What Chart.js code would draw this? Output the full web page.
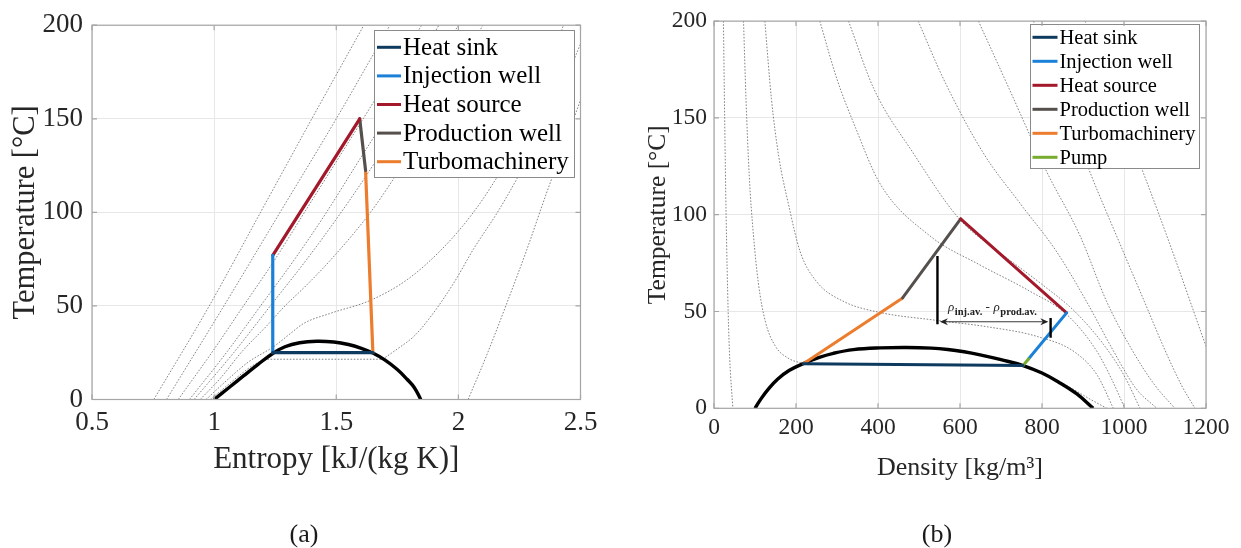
<!DOCTYPE html>
<html>
<head>
<meta charset="utf-8">
<title>CO2 cycle: T-s and T-rho diagrams</title>
<script src="https://cdn.jsdelivr.net/npm/chart.js@4.4.1/dist/chart.umd.min.js"></script>
<style>
  html, body { margin: 0; padding: 0; background: #fff; }
  #wrap { position: relative; width: 1241px; height: 548px; overflow: hidden; }
  .panel { position: absolute; top: 0; }
  #panelA { left: 0; }
  #panelB { left: 620px; }
  .caption {
    position: absolute; top: 519px; line-height: 28px;
    font: 26px "Liberation Serif", "Times New Roman", serif; color: #1a1a1a;
    transform: translateX(-50%);
  }
</style>
</head>
<body>
<div id="wrap">
  <div class="panel" id="panelA"><canvas id="tsChart" width="620" height="548"></canvas></div>
  <div class="panel" id="panelB"><canvas id="trhoChart" width="621" height="548"></canvas></div>
  <div class="caption" style="left:304px">(a)</div>
  <div class="caption" style="left:937px">(b)</div>
</div>

<script>
// ---------- (a) temperature vs entropy: [s kJ/(kg K), T °C] ----------
const sDome = [[1.0,0],[1.06,6.3],[1.12,12.6],[1.18,18.8],[1.24,24.6],[1.29,28.2],[1.35,30.3],[1.42,31.1],
               [1.49,30.7],[1.55,29.4],[1.60,27.5],[1.65,24.8],[1.70,21],[1.75,16],[1.79,10.8],[1.82,6.3],[1.846,0]];

const sHeatSink   = [[1.24,25],[1.65,25]];
const sInjection  = [[1.24,25],[1.24,77]];
const sHeatSource = [[1.24,77],[1.596,150]];
const sProduction = [[1.596,150],[1.62,122.4]];
const sTurbo      = [[1.62,122.4],[1.65,25]];

// isobars
const sIso2    = [[2.04,0],[2.12,25],[2.2,52],[2.28,80],[2.36,110],[2.43,135],[2.5,160]];
const sIso6Liq = [[0.984,0],[1.04,6],[1.10,12.5],[1.15,17.5],[1.205,21.5]];
const sIso6Mix = [[1.205,21.5],[1.69,21.5]];
const sIso6Vap = [[1.69,21.5],[1.75,27],[1.82,34],[1.885,44],[1.98,62],[2.063,80.6],[2.16,100],
                  [2.24,118],[2.33,140],[2.42,165],[2.5,190]];
const sIso10   = [[0.967,0],[1.05,10],[1.14,20],[1.243,28.2],[1.31,35],[1.366,40.6],[1.475,46],[1.64,53],
                  [1.79,64],[1.93,80],[2.05,98],[2.145,116],[2.25,140],[2.35,170],[2.43,200]];
const sIso20   = [[0.943,0],[1.03,12],[1.11,25],[1.22,40],[1.29,50],[1.37,60],[1.48,75],[1.64,100],
                  [1.77,125],[1.89,150],[2.10,200]];
const sIso30   = [[0.918,0],[1.08,25],[1.23,50],[1.38,75],[1.52,100],[1.65,125],[1.77,150],[2.0,200]];
const sIso40   = [[0.899,0],[1.05,25],[1.19,50],[1.33,75],[1.46,100],[1.58,125],[1.70,150],[1.92,200]];
const sIso60   = [[0.853,0],[0.99,25],[1.12,50],[1.25,75],[1.37,100],[1.49,125],[1.61,150],[1.73,175],[1.85,200]];
const sIso80   = [[0.805,0],[1.04,50],[1.27,100],[1.50,150],[1.72,200]];
const sIsoMax  = [[0.753,0],[0.98,50],[1.19,100],[1.40,150],[1.613,200]];

// ---------- (b) temperature vs density: [rho kg/m3, T °C] ----------
const rDome = [[100,0],[115,5],[133,10],[155,15],[183,19.5],[218,23.1],[255,26.2],[291,28.4],[340,30.3],
               [405,31.2],[470,31.4],[530,31.1],[570,30.4],[610,29.2],[649,27.6],[700,25.1],[754,22.1],
               [800,18.2],[840,13.6],[885,7.4],[925,0]];

const rHeatSink   = [[218,23],[754,22.1]];
const rPump       = [[754,22.1],[767,25.5]];
const rInjection  = [[767,25.5],[860,49.3]];
const rHeatSource = [[601.6,97.8],[860,49.3]];
const rProduction = [[460,57],[601.6,97.8]];
const rTurbo      = [[218,23],[460,57]];

// isobars
const rIso2    = [[23,200],[26,150],[29.5,100],[34.5,50],[38.5,25],[46,0]];
const rIso6Vap = [[72,200],[78,160],[86,120],[96,90],[108,65],[125,45],[150,32],[180,26],[218,23]];
const rIso6Liq = [[754,22.1],[790,19],[835,14.5],[875,10],[915,5],[958,0]];
const rIso10   = [[124,200],[140,160],[158,130],[181,106],[210,81],[250,65.5],[315,55.3],[405,49.5],
                  [540,45.5],[670,42],[790,37],[880,29],[935,17],[974,0]];
const rIso20   = [[258,200],[300,170],[345,145],[405,116],[527,89],[649,74],[771,60.4],[860,48.5],
                  [933,29.7],[970,15],[1002,0]];
const rIso30   = [[328,200],[390,165],[486,131.8],[600,97.4],[700,80],[800,64],[880,50],[950,33],[1000,17],[1039,0]];
const rIso40   = [[498,200],[560,170],[657,131.8],[746,106],[836,80.8],[909,55],[974,29.7],[1030,10],[1080,0]];
const rIso60   = [[645,200],[720,165],[811,122.4],[893,89],[958,55],[1020,30],[1075,12],[1124,0]];
const rIso80   = [[779,200],[850,160],[917,122],[990,85],[1050,55],[1100,30],[1140,12],[1173,0]];
const rIsoMax  = [[905,200],[975,160],[1050,120],[1120,80],[1170,50],[1200,32]];

// density difference marker between the two wells
const rBarProd  = [[545,43.4],[545,78.7]];
const rBarInj   = [[821,36.5],[821,46.7]];
const rArrow    = [[551,44.7],[815.5,44.7]];
const rDiffText = [['ρ', 'inj.av.'], [' - ', ''], ['ρ', 'prod.av.']];

const legendA = ['Heat sink', 'Injection well', 'Heat source', 'Production well', 'Turbomachinery'];
const legendB = ['Heat sink', 'Injection well', 'Heat source', 'Production well', 'Turbomachinery', 'Pump'];

// ---------- styling ----------
const FONT = '"Liberation Serif", "Times New Roman", serif';
const INK = '#262626';
const COLORS = {
  'Heat sink': '#0f3a5f',
  'Injection well': '#1b80d8',
  'Heat source': '#a3182a',
  'Production well': '#56504d',
  'Turbomachinery': '#ec7d2e',
  'Pump': '#77ac30'
};

Chart.defaults.font.family = FONT;
Chart.defaults.color = INK;

const pts = arr => arr.map(p => ({ x: p[0], y: p[1] }));

function cycle(arr, label, width) {
  return { label, data: pts(arr), showLine: true, pointRadius: 0, borderColor: COLORS[label],
           borderWidth: width, tension: 0, borderCapStyle: 'round', borderJoinStyle: 'round', order: 1 };
}
function dome(arr) {
  return { label: 'dome', data: pts(arr), showLine: true, pointRadius: 0, borderColor: '#000',
           borderWidth: 3.4, tension: 0.4, borderJoinStyle: 'round', order: 2 };
}
function isobar(arr) {
  return { label: 'isobar', data: pts(arr), showLine: true, pointRadius: 0, borderColor: 'rgba(60,60,60,0.85)',
           borderWidth: 0.75, borderDash: [1.6, 1.6], cubicInterpolationMode: 'monotone', order: 3 };
}
function bar(arr) {
  return { label: 'marker', data: pts(arr), showLine: true, pointRadius: 0, borderColor: '#000',
           borderWidth: 2.4, order: 0 };
}

// axis box with inward ticks, legend box drawn over the curves
const framePlugin = {
  id: 'frame',
  afterDatasetsDraw(chart, args, opts) {
    const ctx = chart.ctx;
    if (opts.arrow) drawDiffMarker(chart);
    const L = opts.legend;
    ctx.save();
    ctx.fillStyle = '#fff';
    ctx.fillRect(L.left, L.top, L.right - L.left, L.bottom - L.top);
    ctx.strokeStyle = '#8a8a8a';
    ctx.lineWidth = 1;
    ctx.strokeRect(L.left + 0.5, L.top + 0.5, L.right - L.left - 1, L.bottom - L.top - 1);
    ctx.font = L.fontSize + 'px ' + FONT;
    ctx.textBaseline = 'middle';
    L.labels.forEach((label, i) => {
      const y = L.firstRow + i * L.rowGap;
      ctx.strokeStyle = COLORS[label];
      ctx.lineWidth = 3;
      ctx.beginPath();
      ctx.moveTo(L.lineFrom, y);
      ctx.lineTo(L.lineTo, y);
      ctx.stroke();
      ctx.fillStyle = '#000';
      ctx.fillText(label, L.textX, y + 1);
    });
    ctx.restore();
  },
  afterDraw(chart) {
    const { ctx, chartArea: a, scales } = chart;
    ctx.save();
    ctx.strokeStyle = '#a6a6a6';
    ctx.lineWidth = 1.2;
    ctx.strokeRect(a.left, a.top, a.right - a.left, a.bottom - a.top);
    ctx.beginPath();
    scales.x.ticks.forEach(t => {
      const x = scales.x.getPixelForValue(t.value);
      ctx.moveTo(x, a.bottom); ctx.lineTo(x, a.bottom - 5);
      ctx.moveTo(x, a.top); ctx.lineTo(x, a.top + 5);
    });
    scales.y.ticks.forEach(t => {
      const y = scales.y.getPixelForValue(t.value);
      ctx.moveTo(a.left, y); ctx.lineTo(a.left + 5, y);
      ctx.moveTo(a.right, y); ctx.lineTo(a.right - 5, y);
    });
    ctx.stroke();
    ctx.restore();
  }
};

function drawDiffMarker(chart) {
  const ctx = chart.ctx, xs = chart.scales.x, ys = chart.scales.y;
  const x1 = xs.getPixelForValue(rArrow[0][0]), x2 = xs.getPixelForValue(rArrow[1][0]);
  const y = ys.getPixelForValue(rArrow[0][1]);
  ctx.save();
  ctx.strokeStyle = '#222';
  ctx.fillStyle = '#222';
  ctx.lineWidth = 0.9;
  ctx.beginPath();
  ctx.moveTo(x1 + 2, y); ctx.lineTo(x2 - 2, y);
  ctx.stroke();
  [[x1, 1], [x2, -1]].forEach(([x, d]) => {
    ctx.beginPath();
    ctx.moveTo(x, y);
    ctx.lineTo(x + d * 8, y - 3.6);
    ctx.lineTo(x + d * 5.5, y);
    ctx.lineTo(x + d * 8, y + 3.6);
    ctx.closePath();
    ctx.fill();
  });
  // rho_inj.av. - rho_prod.av.
  let tx = xs.getPixelForValue(571), ty = ys.getPixelForValue(50.2);
  ctx.textBaseline = 'alphabetic';
  rDiffText.forEach(([main, sub]) => {
    ctx.font = (main === 'ρ' ? 'italic ' : '') + '13px ' + FONT;
    ctx.fillText(main, tx, ty);
    tx += ctx.measureText(main).width + 0.5;
    if (sub) {
      ctx.font = 'bold 10.5px ' + FONT;
      ctx.fillText(sub, tx, ty + 3.5);
      tx += ctx.measureText(sub).width;
    }
  });
  ctx.restore();
}

function axes(cfg) {
  return {
    x: {
      type: 'linear', min: cfg.xMin, max: cfg.xMax,
      ticks: { stepSize: cfg.xStep, padding: cfg.xTickPad, color: INK, font: { size: cfg.tickSize },
               callback: v => String(v), maxRotation: 0 },
      grid: { color: '#e7e7e7', drawTicks: false },
      border: { display: false },
      title: { display: true, text: cfg.xTitle, color: INK, font: { size: cfg.xTitleSize },
               padding: { top: 0, bottom: cfg.xTitlePad } },
      afterFit: s => { s.height = 80; }
    },
    y: {
      type: 'linear', min: 0, max: 200,
      ticks: { stepSize: 50, padding: cfg.yTickPad, color: INK, font: { size: cfg.tickSize },
               callback: v => String(v) },
      grid: { color: '#e7e7e7', drawTicks: false },
      border: { display: false },
      title: { display: true, text: 'Temperature [°C]', color: INK, font: { size: cfg.yTitleSize },
               padding: { top: cfg.yTitlePad, bottom: 0 } },
      afterFit: s => { s.width = cfg.yWidth; }
    }
  };
}

// ---------- (a) ----------
new Chart(document.getElementById('tsChart'), {
  type: 'scatter',
  data: {
    datasets: [
      cycle(sHeatSink, 'Heat sink', 3.2),
      cycle(sInjection, 'Injection well', 3.2),
      cycle(sHeatSource, 'Heat source', 3.2),
      cycle(sProduction, 'Production well', 3.2),
      cycle(sTurbo, 'Turbomachinery', 3.2),
      dome(sDome),
      ...[sIso2, sIso6Liq, sIso6Mix, sIso6Vap, sIso10, sIso20, sIso30, sIso40, sIso60, sIso80, sIsoMax].map(isobar)
    ]
  },
  options: {
    responsive: false, animation: false,
    layout: { padding: { left: 0, right: 39.5, top: 24.5, bottom: 68.5 } },
    plugins: {
      legend: { display: false }, tooltip: { enabled: false },
      frame: { legend: { left: 374, top: 30, right: 575, bottom: 178, firstRow: 47.3, rowGap: 28.6,
                         lineFrom: 377, lineTo: 401, textX: 403, fontSize: 25, labels: legendA } }
    },
    scales: axes({ xMin: 0.5, xMax: 2.5, xStep: 0.5, tickSize: 27, xTickPad: 7.6, yTickPad: 9,
                   xTitle: 'Entropy [kJ/(kg K)]', xTitleSize: 31, xTitlePad: 1.5,
                   yTitleSize: 30.5, yTitlePad: 7.7, yWidth: 92 })
  },
  plugins: [framePlugin]
});

// ---------- (b) ----------
new Chart(document.getElementById('trhoChart'), {
  type: 'scatter',
  data: {
    datasets: [
      bar(rBarProd),
      bar(rBarInj),
      cycle(rHeatSink, 'Heat sink', 3),
      cycle(rPump, 'Pump', 3),
      cycle(rInjection, 'Injection well', 3),
      cycle(rHeatSource, 'Heat source', 3),
      cycle(rProduction, 'Production well', 3),
      cycle(rTurbo, 'Turbomachinery', 3),
      dome(rDome),
      ...[rIso2, rIso6Vap, rIso6Liq, rIso10, rIso20, rIso30, rIso40, rIso60, rIso80, rIsoMax].map(isobar)
    ]
  },
  options: {
    responsive: false, animation: false,
    layout: { padding: { left: 0, right: 35, top: 16.3, bottom: 59.7 } },
    plugins: {
      legend: { display: false }, tooltip: { enabled: false },
      frame: { arrow: true,
               legend: { left: 410, top: 24, right: 580, bottom: 169, firstRow: 37.3, rowGap: 24,
                         lineFrom: 412.5, lineTo: 437.5, textX: 439.5, fontSize: 20.5, labels: legendB } }
    },
    scales: axes({ xMin: 0, xMax: 1200, xStep: 200, tickSize: 23.5, xTickPad: 5.9, yTickPad: 7,
                   xTitle: 'Density [kg/m³]', xTitleSize: 26, xTitlePad: 4.7,
                   yTitleSize: 25.5, yTitlePad: 22.7, yWidth: 94 })
  },
  plugins: [framePlugin]
});
</script>
</body>
</html>
